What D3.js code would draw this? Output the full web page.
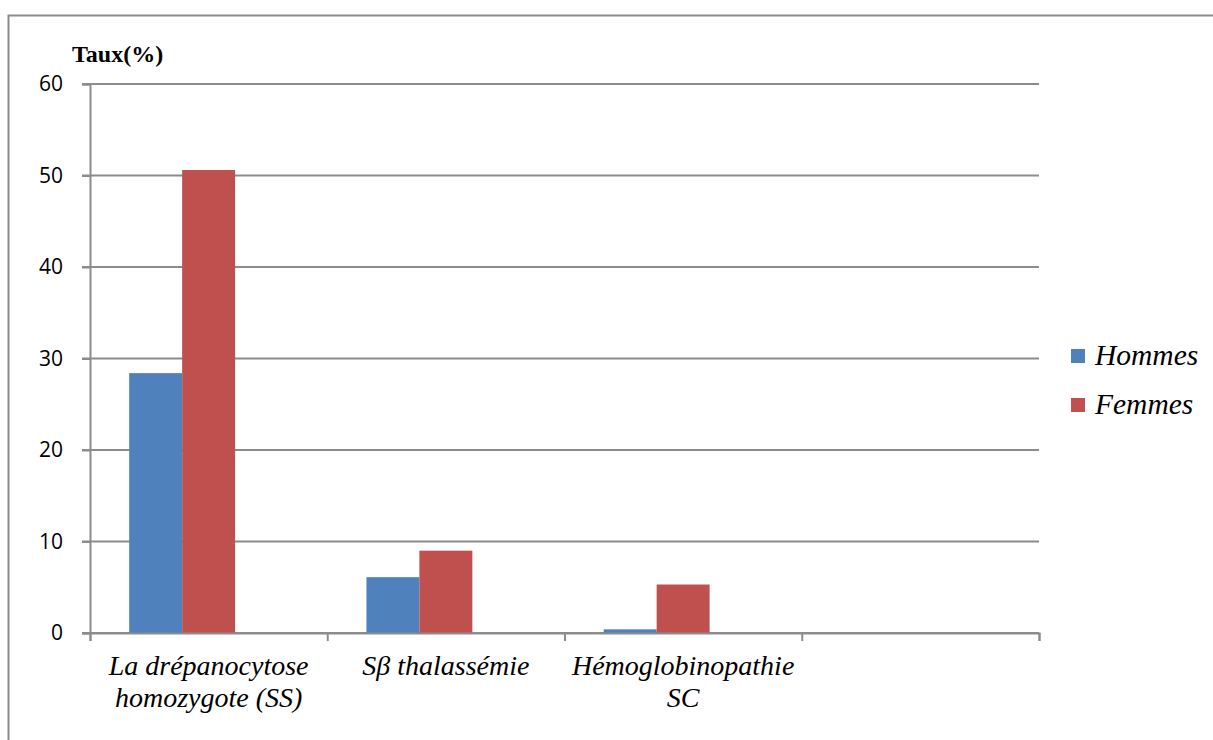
<!DOCTYPE html>
<html>
<head>
<meta charset="utf-8">
<script src="https://cdn.jsdelivr.net/npm/d3@7"></script>
<style>
  body { margin: 0; background: #fff; }
  svg { display: block; }
</style>
</head>
<body>
<svg id="chart" width="1213" height="740"></svg>
<script>
// data
var categories = [["La drépanocytose", "homozygote (SS)"], ["Sβ thalassémie"], ["Hémoglobinopathie", "SC"], []]
var seriesNames = ["Hommes", "Femmes"]
var seriesColors = ["#4F81BD", "#C0504D"]
var hommes = [28.4, 6.1, 0.4]
var femmes = [50.6, 9.0, 5.3]
var yTicks = [0, 10, 20, 30, 40, 50, 60]

var svg = d3.select('#chart')
var plotLeft = 90, plotTop = 84, plotRight = 1039, plotBottom = 633
var serif = '"Liberation Serif", "Times New Roman", serif'

// outer frame (open to the right and bottom like the source crop)
svg.append('path')
    .attr('d', 'M8.5,740V15.5H1213')
    .attr('fill', 'none')
    .attr('stroke', '#8a8a8a')
    .attr('stroke-width', 2)

var xScale = d3.scaleBand()
    .domain(d3.range(categories.length))
    .range([plotLeft, plotRight])
    .paddingInner(0).paddingOuter(0)
// three slots per group, the last one left empty, as in the original sheet
var xInner = d3.scaleBand()
    .domain([0, 1, 2])
    .range([0, xScale.bandwidth()])
    .paddingInner(0).paddingOuter(0.74)
var yScale = d3.scaleLinear()
    .domain([0, 60])
    .range([plotBottom, plotTop])

// gridlines
svg.append('g').selectAll('line')
    .data(yTicks)
    .enter().append('line')
    .attr('x1', plotLeft - 8).attr('x2', plotRight)
    .attr('y1', d => yScale(d)).attr('y2', d => yScale(d))
    .attr('stroke', '#8c8c8c')
    .attr('stroke-width', 2)

// y axis
var yAxis = svg.append('g')
    .attr('transform', 'translate(' + plotLeft + ',0)')
    .call(d3.axisLeft(yScale).tickValues(yTicks).tickSize(8).tickPadding(19))
yAxis.select('.domain').attr('stroke', '#8c8c8c').attr('stroke-width', 2)
yAxis.selectAll('.tick line').attr('stroke', '#8c8c8c').attr('stroke-width', 2)
yAxis.selectAll('.tick text')
    .attr('font-family', '"Open Sans", "Liberation Sans", sans-serif')
    .attr('font-size', 21)
    .attr('fill', '#000')

// bars
var series = [hommes, femmes]
series.forEach(function (vals, s) {
    svg.append('g').selectAll('rect')
        .data(vals)
        .enter().append('rect')
        .attr('x', (d, i) => xScale(i) + xInner(s))
        .attr('width', xInner.bandwidth())
        .attr('y', d => yScale(d))
        .attr('height', d => plotBottom - yScale(d))
        .attr('fill', seriesColors[s])
})

// x axis with ticks between categories
var xEdge = d3.scaleLinear().domain([0, categories.length]).range([plotLeft, plotRight])
var xAxis = svg.append('g')
    .attr('transform', 'translate(0,' + plotBottom + ')')
    .call(d3.axisBottom(xEdge).tickValues(d3.range(categories.length + 1)).tickSize(8).tickFormat(''))
xAxis.select('.domain').attr('stroke', '#8c8c8c').attr('stroke-width', 2)
xAxis.selectAll('.tick line').attr('stroke', '#8c8c8c').attr('stroke-width', 2)

// category labels
categories.forEach(function (lines, i) {
    var t = svg.append('text')
        .attr('x', xScale(i) + xScale.bandwidth() / 2)
        .attr('y', 675)
        .attr('text-anchor', 'middle')
        .attr('font-family', serif)
        .attr('font-style', 'italic')
        .attr('font-size', 28)
    lines.forEach(function (ln, k) {
        t.append('tspan')
            .attr('x', xScale(i) + xScale.bandwidth() / 2)
            .attr('dy', k === 0 ? 0 : 32)
            .text(ln)
    })
})

// y title
svg.append('text')
    .attr('x', 72).attr('y', 62)
    .attr('font-family', serif)
    .attr('font-weight', 'bold')
    .attr('font-size', 24)
    .text('Taux(%)')

// legend
var legend = svg.append('g').selectAll('g')
    .data(seriesNames)
    .enter().append('g')
    .attr('transform', (d, i) => 'translate(1071,' + (349 + i * 49) + ')')
legend.append('rect')
    .attr('width', 14).attr('height', 14)
    .attr('fill', (d, i) => seriesColors[i])
legend.append('text')
    .attr('x', 24).attr('y', 16)
    .attr('font-family', serif)
    .attr('font-style', 'italic')
    .attr('font-size', 29.5)
    .text(d => d)
</script>
</body>
</html>
